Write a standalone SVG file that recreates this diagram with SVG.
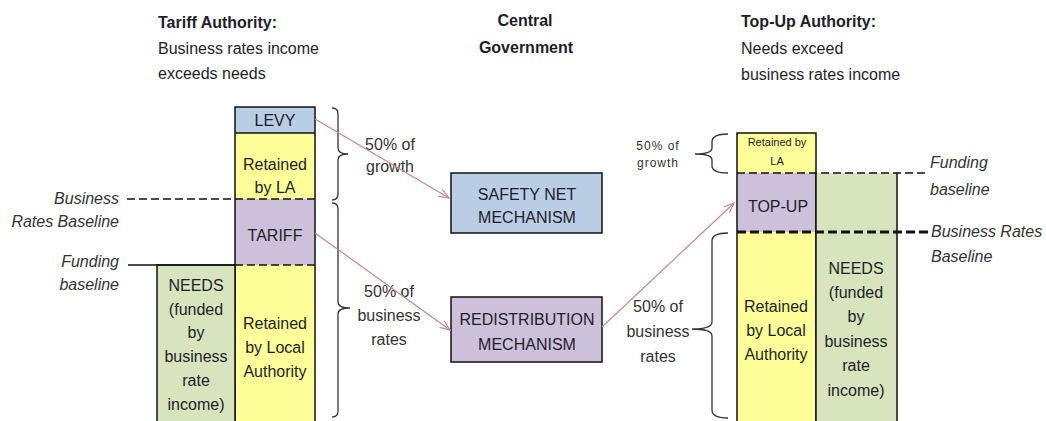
<svg xmlns="http://www.w3.org/2000/svg" width="1046" height="421" viewBox="0 0 1046 421">
  <style>
    text { font-family: "Liberation Sans", Arial, sans-serif; font-size: 16px; fill: #1e1e28; }
    .hd { font-weight: bold; }
    .c { text-anchor: middle; }
    .r { text-anchor: end; }
    .it { font-style: italic; fill: #333; }
    .sm { font-size: 11px; }
    .smw { font-size: 12px; letter-spacing: 1px; fill: #333; }
    .lbl { fill: #333; }
    .yellow { fill: #FFFF99; }
    .blue { fill: #B9CDE5; }
    .purple { fill: #CCC0DA; }
    .green { fill: #D7E4BD; }
    .edge { fill: none; stroke: #111; stroke-width: 1.5; }
    .dash { fill: none; stroke: #111; stroke-width: 1.5; stroke-dasharray: 8 4; }
    .dashb { fill: none; stroke: #111; stroke-width: 3; stroke-dasharray: 9 4; }
    .brace { fill: none; stroke: #333; stroke-width: 1.3; }
    .flow { fill: none; stroke: #C48A88; stroke-width: 1.2; }
  </style>
  <defs>
    <marker id="head" viewBox="0 0 12 10" refX="11" refY="5" markerWidth="12" markerHeight="10" markerUnits="userSpaceOnUse" orient="auto">
      <path d="M1,1 L11,5 L1,9" fill="none" stroke="#C48A88" stroke-width="1.2"/>
    </marker>
  </defs>

  <rect width="1046" height="421" fill="#fff"/>

  <!-- Headings -->
  <g id="tariff-heading">
    <text class="hd" x="158" y="28">Tariff Authority:</text>
    <text x="158" y="54">Business rates income</text>
    <text x="158" y="79">exceeds needs</text>
  </g>
  <g id="central-heading">
    <text class="hd c" x="525" y="26">Central</text>
    <text class="hd c" x="526" y="53">Government</text>
  </g>
  <g id="topup-heading">
    <text class="hd" x="741" y="27">Top-Up Authority:</text>
    <text x="741" y="54">Needs exceed</text>
    <text x="741" y="80">business rates income</text>
  </g>

  <!-- Tariff authority stack -->
  <g id="tariff-stack">
    <rect class="blue" x="235" y="107" width="80" height="26"/>
    <rect class="yellow" x="235" y="133" width="80" height="66"/>
    <rect class="purple" x="235" y="199" width="80" height="66"/>
    <rect class="yellow" x="235" y="265" width="80" height="170"/>
    <rect class="edge" x="235" y="107" width="80" height="330"/>
    <line class="edge" x1="235" y1="133" x2="315" y2="133"/>
    <text class="c" x="275" y="126">LEVY</text>
    <text class="c" x="275" y="170">Retained</text>
    <text class="c" x="275" y="193">by LA</text>
    <text class="c" x="275" y="241">TARIFF</text>
    <text class="c" x="275" y="329">Retained</text>
    <text class="c" x="275" y="353">by Local</text>
    <text class="c" x="275" y="377">Authority</text>
  </g>
  <g id="tariff-needs">
    <rect class="edge" x="157" y="265" width="78" height="170" style="fill:#D7E4BD"/>
    <text class="c" x="196" y="291">NEEDS</text>
    <text class="c" x="196" y="315">(funded</text>
    <text class="c" x="196" y="338">by</text>
    <text class="c" x="196" y="362">business</text>
    <text class="c" x="196" y="386">rate</text>
    <text class="c" x="196" y="410">income)</text>
  </g>
  <g id="tariff-baselines">
    <line class="dash" x1="127" y1="199" x2="315" y2="199"/>
    <line class="edge" x1="128" y1="265" x2="235" y2="265"/>
    <line class="dash" x1="235" y1="265" x2="315" y2="265"/>
    <text class="it r" x="119" y="204">Business</text>
    <text class="it r" x="119" y="227">Rates Baseline</text>
    <text class="it r" x="119" y="267">Funding</text>
    <text class="it r" x="119" y="290">baseline</text>
  </g>
  <g id="tariff-braces">
    <path class="brace" d="M332,108 Q338,108 338,114 L338,148 Q338,154 348,154 Q338,154 338,160 L338,194 Q338,200 332,200"/>
    <path class="brace" d="M332,203 Q338,203 338,209 L338,302 Q338,308 350,308 Q338,308 338,314 L338,411 Q338,417 332,417"/>
    <text class="lbl c" x="390" y="150">50% of</text>
    <text class="lbl c" x="390" y="172">growth</text>
    <text class="lbl c" x="389" y="297">50% of</text>
    <text class="lbl c" x="389" y="321">business</text>
    <text class="lbl c" x="389" y="345">rates</text>
  </g>

  <!-- Central government mechanisms -->
  <g id="safety-net">
    <rect class="edge" x="451" y="173" width="151" height="60" style="fill:#B9CDE5"/>
    <text class="c" x="527" y="200">SAFETY NET</text>
    <text class="c" x="527" y="223">MECHANISM</text>
  </g>
  <g id="redistribution">
    <rect class="edge" x="451" y="297" width="151" height="65" style="fill:#CCC0DA"/>
    <text class="c" x="527" y="325">REDISTRIBUTION</text>
    <text class="c" x="527" y="350">MECHANISM</text>
  </g>

  <!-- Top-up authority stack -->
  <g id="topup-stack">
    <rect class="yellow" x="737" y="133" width="79" height="40"/>
    <rect class="purple" x="737" y="173" width="79" height="59"/>
    <rect class="yellow" x="737" y="232" width="79" height="200"/>
    <rect class="edge" x="737" y="133" width="79" height="300"/>
    <text class="sm c" x="777" y="146">Retained by</text>
    <text class="sm c" x="777" y="165">LA</text>
    <text class="c" x="778" y="212">TOP-UP</text>
    <text class="c" x="776" y="312">Retained</text>
    <text class="c" x="776" y="336">by Local</text>
    <text class="c" x="776" y="360">Authority</text>
  </g>
  <g id="topup-needs">
    <rect class="green" x="816" y="173" width="81" height="260"/>
    <line class="edge" x1="897" y1="173" x2="897" y2="433"/>
    <line class="edge" x1="816" y1="173" x2="816" y2="433"/>
    <text class="c" x="856" y="274">NEEDS</text>
    <text class="c" x="856" y="298">(funded</text>
    <text class="c" x="856" y="322">by</text>
    <text class="c" x="856" y="347">business</text>
    <text class="c" x="856" y="371">rate</text>
    <text class="c" x="856" y="396">income)</text>
  </g>
  <g id="topup-baselines">
    <line class="dash" x1="737" y1="173" x2="928" y2="173"/>
    <line class="dashb" x1="737" y1="232" x2="928" y2="232"/>
    <text class="it" x="930" y="168">Funding</text>
    <text class="it" x="930" y="195">baseline</text>
    <text class="it" x="931" y="237">Business Rates</text>
    <text class="it" x="931" y="262">Baseline</text>
  </g>
  <g id="topup-braces">
    <path class="brace" d="M728,134 Q712,134 712,142 L712,148 Q712,154 695,154 Q712,154 712,160 L712,166 Q712,173 728,173"/>
    <path class="brace" d="M728,233 Q712,233 712,241 L712,322 Q712,329 692,329 Q712,329 712,336 L712,410 Q712,418 728,418"/>
    <text class="smw c" x="658" y="150">50% of</text>
    <text class="smw c" x="658" y="167">growth</text>
    <text class="lbl c" x="658" y="312">50% of</text>
    <text class="lbl c" x="658" y="337">business</text>
    <text class="lbl c" x="658" y="362">rates</text>
  </g>

  <!-- Flows between authorities and central government -->
  <g id="connectors">
    <line class="flow" x1="315" y1="119" x2="449" y2="198" marker-end="url(#head)"/>
    <line class="flow" x1="315" y1="233" x2="450" y2="330" marker-end="url(#head)"/>
    <line class="flow" x1="602" y1="327" x2="734" y2="203" marker-end="url(#head)"/>
  </g>
</svg>
